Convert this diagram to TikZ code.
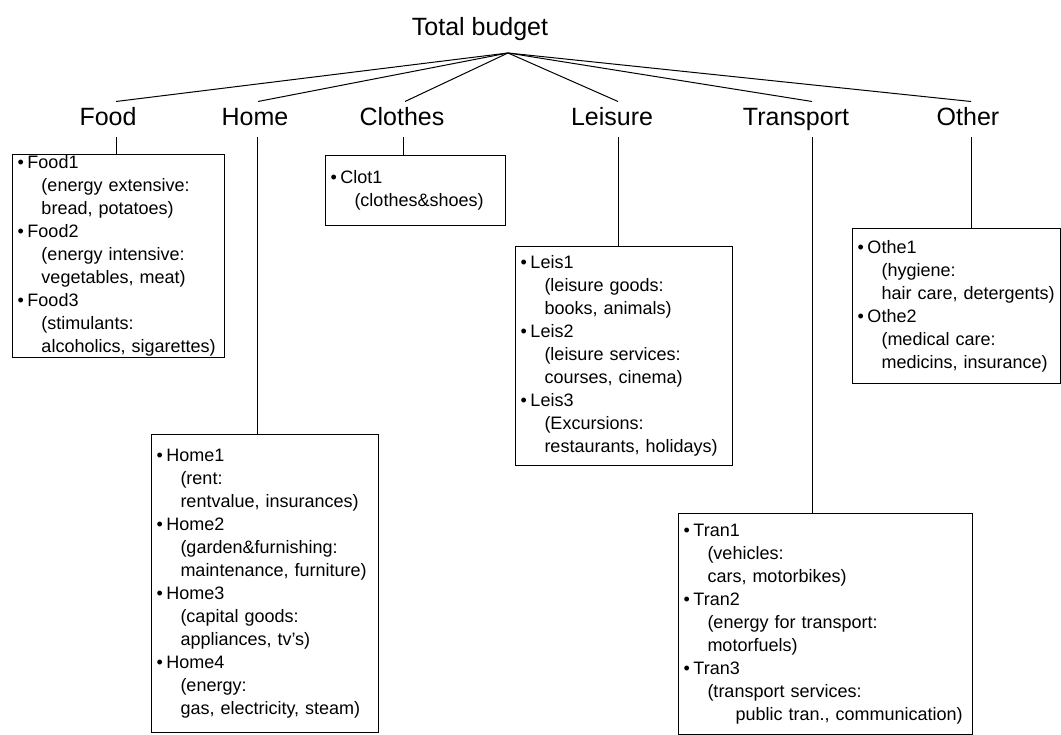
\documentclass[tikz,border=0pt]{standalone}
\usepackage{fontspec}
\setmainfont{Liberation Sans}
\usetikzlibrary{positioning}
\newcommand{\bitem}[1]{\makebox[10pt][l]{\textbullet}#1}
\newcommand{\subln}{\hspace*{24pt}}

\begin{document}
\begin{tikzpicture}[x=1pt,y=-1pt,line width=1pt,
 cat/.style={font=\fontsize{25}{30}\selectfont,anchor=base,inner xsep=2pt,inner ysep=6pt,text height=18pt,text depth=5pt},
 items/.style={draw,anchor=north west,align=left,inner xsep=5pt,inner ysep=0pt,font=\fontsize{18}{23}\selectfont}]
 \fill[white] (0,0) rectangle (1061,735);
 \node[cat] (total) at (480,36) {Total budget};
 \coordinate (root) at (508,53);
 \node[cat] (food) at (108,126) {Food};
 \node[cat] (home) at (255,126) {Home};
 \node[cat] (clothes) at (402,126) {Clothes};
 \node[cat] (leisure) at (612,126) {Leisure};
 \node[cat] (transport) at (796,126) {Transport};
 \node[cat] (other) at (968,126) {Other};
 \node[items,text width=202pt,minimum height=203pt] (foodbox) at (12,154)
  {\bitem{Food1}\\ \subln(energy extensive:\\ \subln bread, potatoes)\\
   \bitem{Food2}\\ \subln(energy intensive:\\ \subln vegetables, meat)\\
   \bitem{Food3}\\ \subln(stimulants:\\ \subln alcoholics, sigarettes)};
 \node[items,text width=170pt,minimum height=70pt] (clotbox) at (325,155)
  {\bitem{Clot1}\\ \subln(clothes\&shoes)};
 \node[items,text width=207pt,minimum height=219pt] (leisbox) at (515,246)
  {\bitem{Leis1}\\ \subln(leisure goods:\\ \subln books, animals)\\
   \bitem{Leis2}\\ \subln(leisure services:\\ \subln courses, cinema)\\
   \bitem{Leis3}\\ \subln(Excursions:\\ \subln restaurants, holidays)};
 \node[items,text width=198pt,minimum height=155pt] (othebox) at (852,228)
  {\bitem{Othe1}\\ \subln(hygiene:\\ \subln hair care, detergents)\\
   \bitem{Othe2}\\ \subln(medical care:\\ \subln medicins, insurance)};
 \node[items,text width=217pt,minimum height=298pt] (homebox) at (151,434)
  {\bitem{Home1}\\ \subln(rent:\\ \subln rentvalue, insurances)\\
   \bitem{Home2}\\ \subln(garden\&furnishing:\\ \subln maintenance, furniture)\\
   \bitem{Home3}\\ \subln(capital goods:\\ \subln appliances, tv's)\\
   \bitem{Home4}\\ \subln(energy:\\ \subln gas, electricity, steam)};
 \node[items,text width=284pt,minimum height=221pt] (tranbox) at (678,513)
  {\bitem{Tran1}\\ \subln(vehicles:\\ \subln cars, motorbikes)\\
   \bitem{Tran2}\\ \subln(energy for transport:\\ \subln motorfuels)\\
   \bitem{Tran3}\\ \subln(transport services:\\ \hspace*{52pt}\mbox{public tran., communication)}};
 \draw (root) -- ([xshift=8pt]food.north);
 \draw (root) -- ([xshift=3pt]home.north);
 \draw (root) -- ([xshift=3pt]clothes.north);
 \draw (root) -- ([xshift=6pt]leisure.north);
 \draw (root) -- ([xshift=16pt]transport.north);
 \draw (root) -- ([xshift=3pt]other.north);
 \draw ([xshift=8pt]food.south) -- ([xshift=8pt]food.south |- foodbox.north);
 \draw ([xshift=2pt]home.south) -- ([xshift=2pt]home.south |- homebox.north);
 \draw ([xshift=1pt]clothes.south) -- ([xshift=1pt]clothes.south |- clotbox.north);
 \draw ([xshift=6pt]leisure.south) -- ([xshift=6pt]leisure.south |- leisbox.north);
 \draw ([xshift=16pt]transport.south) -- ([xshift=16pt]transport.south |- tranbox.north);
 \draw ([xshift=3pt]other.south) -- ([xshift=3pt]other.south |- othebox.north);
\end{tikzpicture}
\end{document}
